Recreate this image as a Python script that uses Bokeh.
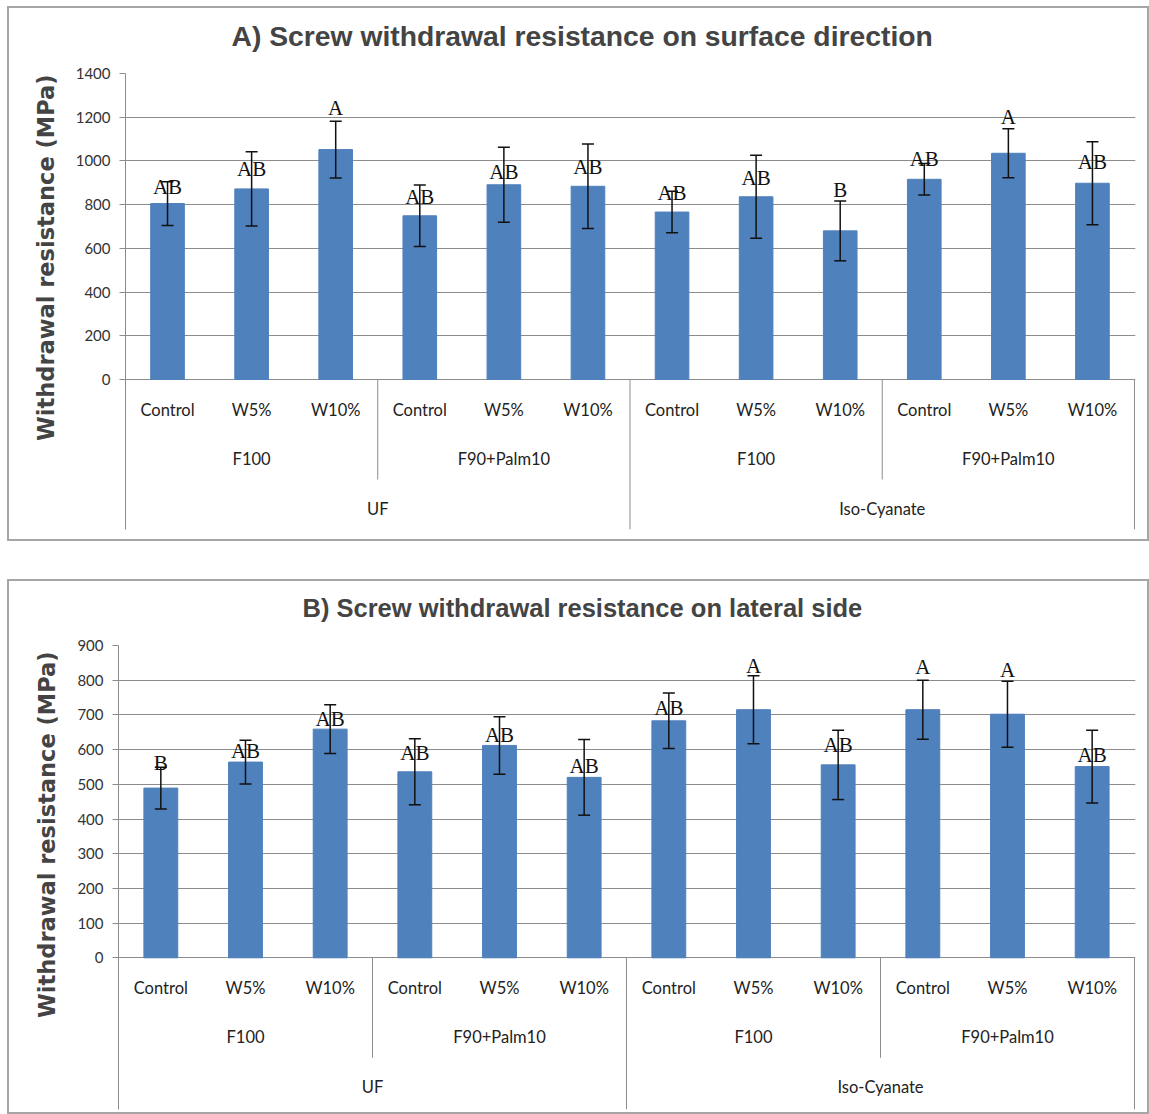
import numpy as np
from bokeh.plotting import figure
from bokeh.models import Range1d, FixedTicker, ColumnDataSource, Whisker, Title, TeeHead
from bokeh.embed import file_html
from bokeh.resources import INLINE
from bokeh.core.properties import value

# ---------------- data ----------------
resins = ["UF", "Iso-Cyanate"]
fibres = ["F100", "F90+Palm10"]
treatments = ["Control", "W5%", "W10%"]

surface_mean = [805, 872, 1052, 749, 891, 884, 766, 836, 680, 916, 1035, 898]
surface_err = [100, 170, 130, 141, 172, 193, 95, 190, 137, 72, 112, 190]
surface_letters = ["AB", "AB", "A", "AB", "AB", "AB", "AB", "AB", "B", "AB", "A", "AB"]
surface_label_y = [883, 961, 1244, 833, 951, 974, 855, 924, 865, 1011, 1199, 997]

lateral_mean = [489, 564, 659, 536, 612, 520, 683, 715, 556, 715, 702, 551]
lateral_err = [60, 63, 70, 95, 83, 109, 80, 98, 100, 85, 95, 105]
lateral_letters = ["B", "AB", "AB", "AB", "AB", "AB", "AB", "A", "AB", "A", "A", "AB"]
lateral_label_y = [562, 595, 687, 589, 642, 552, 720, 840, 613, 839, 829, 584]

BAR = "#4F81BD"
GRID = "#8c8c8c"
CAT_FONT = "Lato"


def make_panel(title_text, title_size, title_offset, title_gap, ylab_offset,
               ylab_standoff, means, errs, letters, label_y, y_max, y_step,
               width, height, border_left, frame_w, border_top, frame_h, zero_px, margin):
    n = len(means)
    idx = np.arange(n)
    means = np.array(means, dtype=float)
    errs = np.array(errs, dtype=float)
    ppu = zero_px / y_max
    y_min = -(frame_h - zero_px) / ppu

    p = figure(width=width, height=height, output_backend="svg", toolbar_location=None,
               x_range=Range1d(-0.5, n - 0.5 + 0.012), y_range=Range1d(y_min, y_max),
               min_border_left=border_left, min_border_right=width - border_left - frame_w,
               min_border_top=border_top, min_border_bottom=height - border_top - frame_h,
               x_axis_location=None, margin=margin)
    p.title = None
    p.outline_line_color = None
    p.background_fill_color = "white"
    p.border_fill_color = "white"
    p.styles = {"border": "2px solid #a6a6a6", "box-sizing": "border-box"}

    # spacer between frame and title, then the title itself
    spacer = Title(text=" ", text_font_size="1px", standoff=title_gap)
    p.add_layout(spacer, "above")
    ttl = Title(text=title_text, align="left", offset=title_offset, standoff=0,
                text_font="Liberation Sans", text_font_style="bold",
                text_font_size=title_size)
    p.add_layout(ttl, "above")

    # y axis
    ticks = list(range(0, y_max + 1, y_step))
    p.yaxis.ticker = FixedTicker(ticks=ticks)
    p.ygrid.ticker = FixedTicker(ticks=ticks)
    p.xgrid.visible = False
    p.ygrid.grid_line_color = GRID
    p.ygrid.grid_line_width = 1
    p.yaxis.axis_line_color = GRID
    p.yaxis.major_tick_line_color = GRID
    p.yaxis.major_tick_out = 6
    p.yaxis.major_tick_in = 0
    p.yaxis.minor_tick_line_color = None
    p.yaxis.major_label_text_font = CAT_FONT
    p.yaxis.major_label_text_font_size = "15px"
    p.yaxis.major_label_text_color = "#333333"
    p.yaxis.major_label_standoff = 9

    ylab = Title(text="Withdrawal resistance (MPa)", align="right", offset=ylab_offset,
                 vertical_align="top", text_font="DejaVu Sans", text_font_style="bold",
                 text_font_size="22.5px", standoff=ylab_standoff)
    p.add_layout(ylab, "left")

    # bars
    p.vbar(x=idx, top=means, bottom=0, width=0.4, fill_color=BAR, line_color=BAR)

    # error bars
    src = ColumnDataSource(dict(x=idx, upper=means + errs, lower=means - errs))
    w = Whisker(source=src, base="x", upper="upper", lower="lower",
                line_color="#111111", line_width=1.5, level="annotation",
                upper_head=TeeHead(size=12, line_color="#111111", line_width=1.5),
                lower_head=TeeHead(size=12, line_color="#111111", line_width=1.5))
    p.add_layout(w)

    # significance letters
    p.text(x=idx, y=label_y, text=letters, text_align="center", text_baseline="middle",
           text_font=value("Liberation Serif"), text_font_size="21px", text_color="#111111",
           level="overlay")

    # multi-level category axis
    lvl1 = [t for r in resins for f in fibres for t in treatments]
    p.text(x=idx, y=np.full(n, -30 / ppu), text=lvl1, text_align="center",
           text_baseline="middle", text_font=value(CAT_FONT), text_font_size="16.5px",
           text_color="#222222")
    nt = len(treatments)
    lvl2 = [f for r in resins for f in fibres]
    x2 = np.arange(len(lvl2)) * nt + (nt - 1) / 2
    p.text(x=x2, y=np.full(len(lvl2), -79 / ppu), text=lvl2, text_align="center",
           text_baseline="middle", text_font=value(CAT_FONT), text_font_size="16.5px",
           text_color="#222222")
    ng = nt * len(fibres)
    x3 = np.arange(len(resins)) * ng + (ng - 1) / 2
    p.text(x=x3, y=np.full(len(resins), -129 / ppu), text=resins, text_align="center",
           text_baseline="middle", text_font=value(CAT_FONT), text_font_size="16.5px",
           text_color="#222222")

    # separators
    bounds = np.arange(1, len(lvl2) + 1) * nt - 0.5
    is_long = (np.arange(1, len(lvl2) + 1) % len(fibres)) == 0
    bottoms = np.where(is_long, y_min, -100 / ppu)
    p.segment(x0=bounds, x1=bounds, y0=np.zeros(len(bounds)), y1=bottoms,
              line_color=GRID, line_width=1)
    return p


p1 = make_panel("A) Screw withdrawal resistance on surface direction", "28.3px", 106, 19, 1, 24,
                surface_mean, surface_err, surface_letters, surface_label_y,
                1400, 200, width=1142, height=535, border_left=116, frame_w=1010,
                border_top=65, frame_h=456, zero_px=306, margin=(6, 0, 0, 7))
p2 = make_panel("B) Screw withdrawal resistance on lateral side", "25.5px", 184, 21, 6, 26,
                lateral_mean, lateral_err, lateral_letters, lateral_label_y,
                900, 100, width=1142, height=535, border_left=109, frame_w=1017,
                border_top=64, frame_h=464, zero_px=312.3, margin=(38, 0, 0, 7))

open("out.html", "w").write(file_html([p1, p2], INLINE))
